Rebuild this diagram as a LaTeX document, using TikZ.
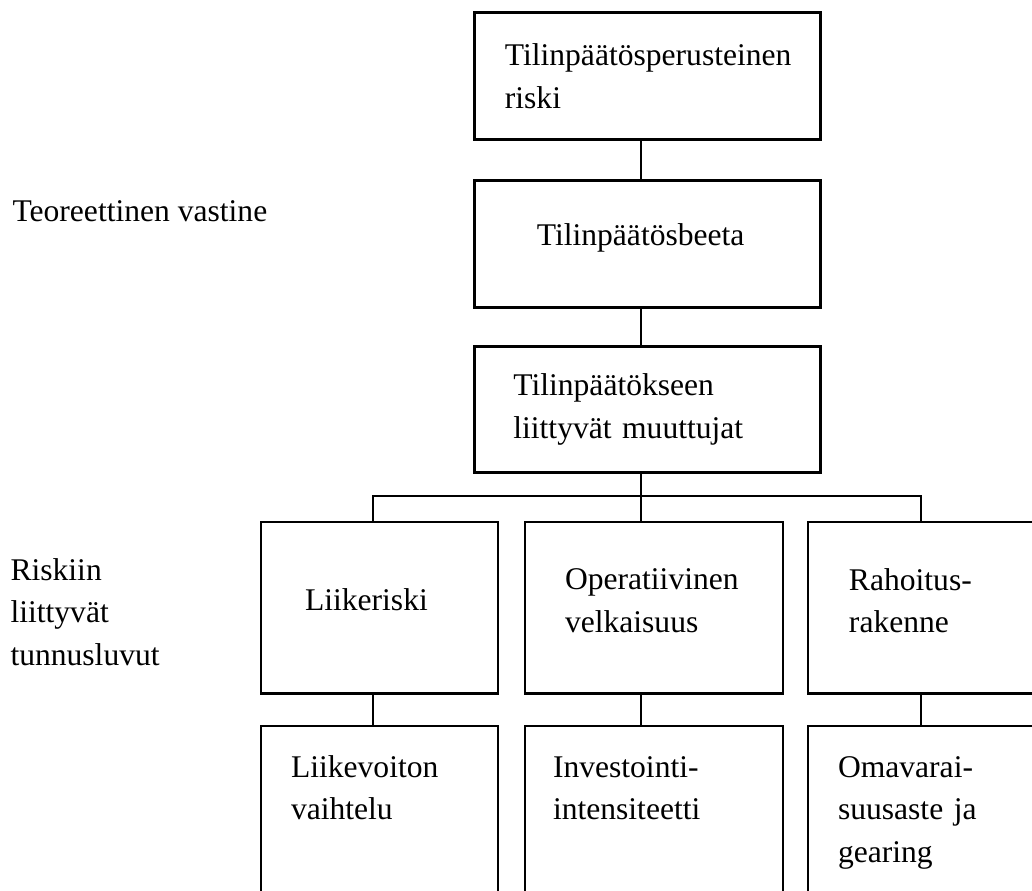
\documentclass[tikz,border=0pt]{standalone}
\usepackage{fontspec}
\setmainfont{Liberation Serif}
\usepackage{tikz}
\usetikzlibrary{positioning}
\hyphenpenalty=10000

\begin{document}
\begin{tikzpicture}[
  every node/.style={font=\fontsize{12pt}{16.15pt}\selectfont},
  box/.style={draw, rectangle, line width=1.1pt, outer sep=0pt,
              inner xsep=0pt, align=left},
  upper/.style={box, minimum width=131.5pt, minimum height=48pt},
  middle/.style={box, minimum height=65pt, text depth=21.5pt},
  lower/.style={box, anchor=north, text height=0pt, text depth=80pt,
                inner ysep=19.4pt},
  conn/.style={line width=1.1pt}
]
  \useasboundingbox (0,0) rectangle (392.16pt,-338.2pt);
  \clip (0,0) rectangle (392.16pt,-338.2pt);

  \node[anchor=base west, inner sep=0pt] (teo) at (4.56pt,-83.98pt) {Teoreettinen vastine};
  \node[anchor=base west, inner sep=0pt, text width=40mm, align=left] (luvut) at (3.8pt,-220.4pt) {Riskiin\\liittyvät\\tunnusluvut};

  \node[upper, text width=108.3pt] (tpr)   at (246pt,-28.88pt)  {Tilinpäätösperusteinen\\riski};
  \node[upper, text width=84pt, text depth=7.2pt] (beta) at (246pt,-92.72pt) {Tilinpäätösbeeta};
  \node[upper, text width=101.84pt] (muut) at (246pt,-155.61pt) {Tilinpäätökseen\\liittyvät muuttujat};

  \node[middle, minimum width=90.06pt, text width=56.6pt, text depth=6.3pt] (liike) at (144.21pt,-230.85pt) {Liikeriski};
  \node[middle, minimum width=98.04pt, text width=67.64pt] (oper) at (248.52pt,-230.85pt) {Operatiivinen\\velkaisuus};
  \node[middle, minimum width=98.04pt, text width=66.9pt]  (rah)  at (356.06pt,-230.85pt) {Rahoitus-\\rakenne};

  \node[lower, minimum width=90.06pt, text width=67.26pt] (vaiht)  at (144.21pt,-275.88pt) {Liikevoiton\\vaihtelu};
  \node[lower, minimum width=98.04pt, text width=76.76pt] (invest) at (248.52pt,-275.88pt) {Investointi-\\intensiteetti};
  \node[lower, minimum width=98.04pt, text width=75.24pt] (omav)   at (356.06pt,-275.88pt) {Omavarai-\\suusaste ja\\gearing};

  \coordinate (jL) at (141.74pt,-188.48pt);
  \coordinate (jM) at (243.58pt,-188.48pt);
  \coordinate (jR) at (349.98pt,-188.48pt);

  \draw[conn] (tpr.south -| jM)  -- (beta.north -| jM);
  \draw[conn] (beta.south -| jM) -- (muut.north -| jM);
  \draw[conn] (muut.south -| jM) -- (oper.north -| jM);
  \draw[conn] (liike.north -| jL) -- (jL) -- (jR) -- (rah.north -| jR);
  \draw[conn] (liike.south -| jL) -- (vaiht.north -| jL);
  \draw[conn] (oper.south -| jM)  -- (invest.north -| jM);
  \draw[conn] (rah.south -| jR)   -- (omav.north -| jR);
\end{tikzpicture}
\end{document}
